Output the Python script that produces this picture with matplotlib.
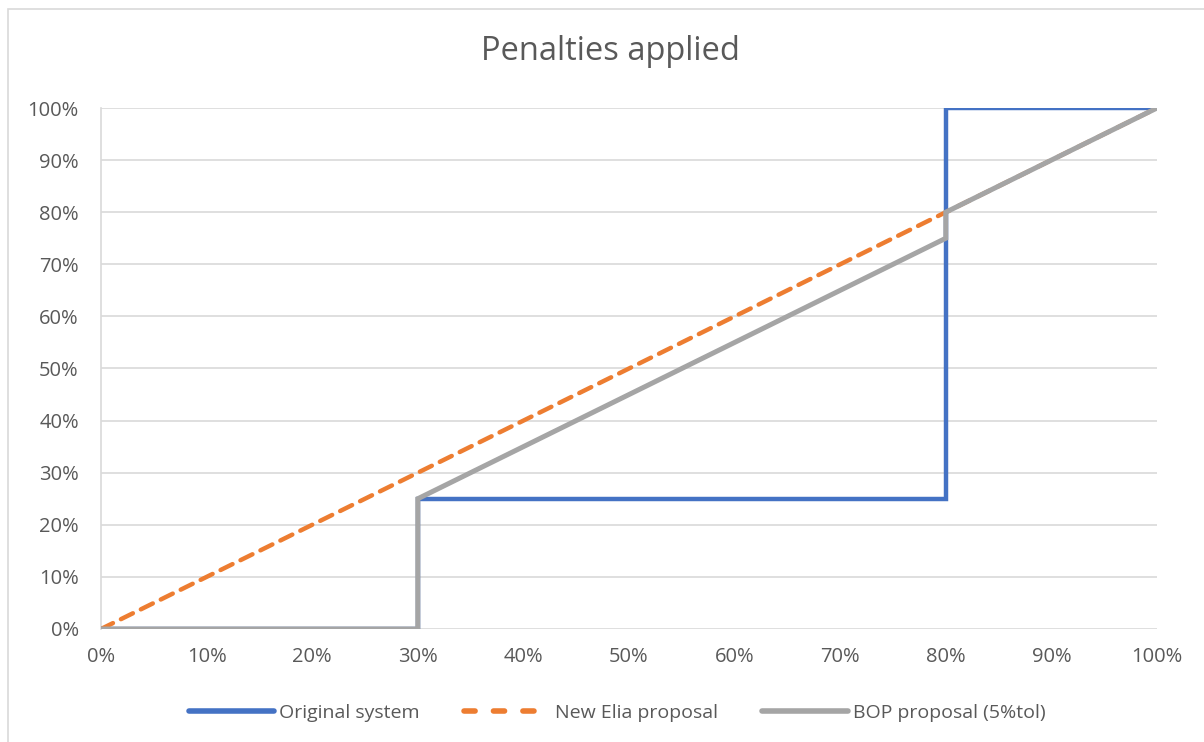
import matplotlib
matplotlib.use("Agg")
import matplotlib.pyplot as plt
from matplotlib.ticker import PercentFormatter, MultipleLocator
from matplotlib.patches import Rectangle

# Penalty curves (x = deviation share, y = penalty share)
orig_x = [0.0, 0.3, 0.3, 0.8, 0.8, 1.0]
orig_y = [0.0, 0.0, 0.25, 0.25, 1.0, 1.0]

elia_x = [0.0, 1.0]
elia_y = [0.0, 1.0]

bop_x = [0.0, 0.3, 0.3, 0.8, 0.8, 1.0]
bop_y = [0.0, 0.0, 0.25, 0.75, 0.8, 1.0]

labels = ["Original system", "New Elia proposal", "BOP proposal (5%tol)"]
colors = ["#4472C4", "#ED7D31", "#A5A5A5"]

plt.rcParams['font.family'] = ['Open Sans', 'DejaVu Sans']
text_color = "#595959"

W, H = 1204, 742
fig = plt.figure(figsize=(W / 100, H / 100), dpi=100)

# outer chart frame
fig.patches.append(Rectangle((8 / W, -0.01), 1.2, 1 - 9 / H + 0.01, transform=fig.transFigure,
                             fill=False, edgecolor="#D9D9D9", linewidth=1.2))

ax = fig.add_axes([101 / W, 1 - 629 / H, (1157 - 101) / W, (629 - 108) / H])

ax.plot(orig_x, orig_y, color=colors[0], lw=3.2, label=labels[0], solid_joinstyle="miter", zorder=3)
ax.plot(elia_x, elia_y, color=colors[1], lw=3.2, ls=(0, (3, 2)), dash_capstyle="round",
        label=labels[1], zorder=4)
ax.plot(bop_x, bop_y, color=colors[2], lw=3.6, label=labels[2], solid_joinstyle="miter", zorder=5)

ax.set_xlim(0, 1)
ax.set_ylim(0, 1)
ax.xaxis.set_major_locator(MultipleLocator(0.1))
ax.yaxis.set_major_locator(MultipleLocator(0.1))
ax.xaxis.set_major_formatter(PercentFormatter(1.0, decimals=0))
ax.yaxis.set_major_formatter(PercentFormatter(1.0, decimals=0))

ax.grid(axis="y", color="#D9D9D9", lw=1.2, zorder=0)
for side in ["top", "right", "bottom"]:
    ax.spines[side].set_visible(False)
ax.spines["left"].set_color("#D9D9D9")
ax.spines["left"].set_linewidth(1.2)
ax.tick_params(length=0, labelsize=14.5, labelcolor=text_color)
ax.tick_params(axis="x", pad=13)
ax.tick_params(axis="y", pad=16)

fig.text(610 / W, 1 - 52 / H, "Penalties applied",
         ha="center", va="center", fontsize=23.5, color=text_color)

leg = fig.legend(loc="center", bbox_to_anchor=(617 / W, 1 - 713 / H), ncol=3, frameon=False,
                 fontsize=14, handlelength=4.4, handletextpad=0.25, columnspacing=2.3)
for t in leg.get_texts():
    t.set_color(text_color)
for ln in leg.get_lines():
    ln.set_linewidth(4.0)
    ln.set_solid_capstyle("round")
# short round dashes for the dashed legend sample
dashed = leg.get_lines()[1]
dashed.set_dashes((2.0, 3.3))
dashed.set_dash_capstyle("round")

fig.savefig("out.png", dpi=100, facecolor="white")
